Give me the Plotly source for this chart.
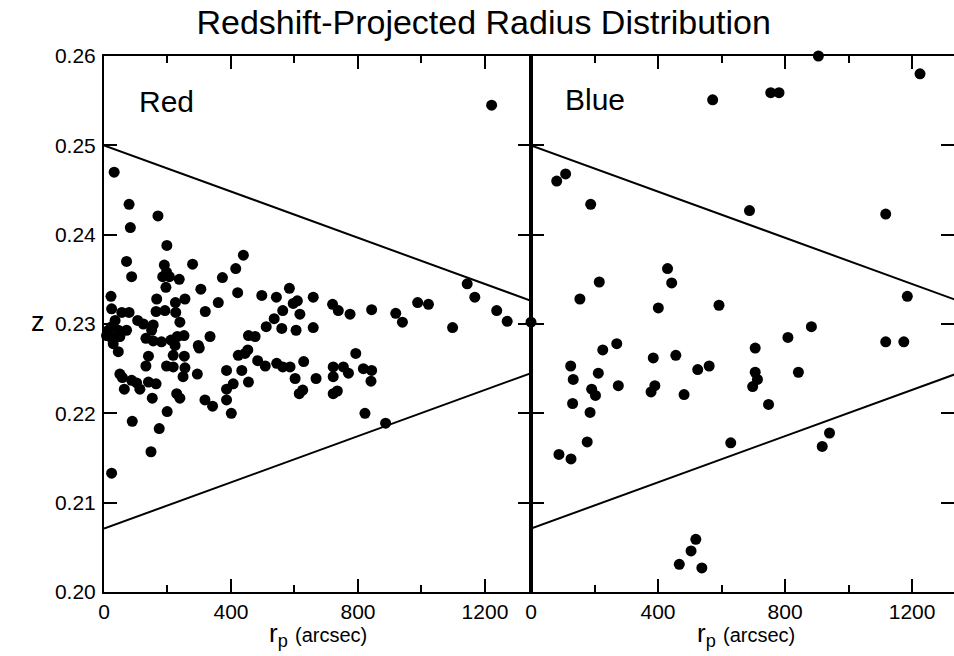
import plotly.graph_objects as go

# Red-sequence galaxies: projected radius (arcsec) and redshift
red_r = [1221, 32, 79, 170, 83, 24, 148, 89, 174, 198, 71, 87, 190, 197, 185, 206, 195, 237, 279,
         439, 415, 373, 305, 421, 360, 319, 255, 225, 166, 164, 192, 226, 239, 22, 24, 56, 79, 35,
         24, 8, 19, 45, 71, 50, 29, 45, 14, 106, 124, 155, 150, 132, 155, 181, 211, 231, 252, 224,
         218, 253, 297, 300, 334, 140, 132, 197, 218, 255, 249, 294, 50, 58, 64, 87, 103, 113, 140,
         164, 152, 229, 239, 199, 318, 342, 386, 386, 407, 386, 401, 423, 444, 453, 434, 455, 455,
         476, 484, 508, 497, 511, 536, 543, 563, 560, 584, 596, 609, 617, 605, 544, 563, 586, 602,
         629, 615, 626, 659, 659, 720, 738, 775, 843, 919, 940, 988, 1022, 1098, 1144, 1168, 1237,
         1270, 1345, 668, 722, 722, 754, 770, 722, 735, 793, 817, 843, 841, 822, 887]
red_z = [0.2545, 0.2470, 0.2434, 0.2421, 0.2408, 0.2133, 0.2157, 0.2191, 0.2183, 0.2388, 0.2370,
         0.2353, 0.2366, 0.2358, 0.2353, 0.2353, 0.2341, 0.2350, 0.2367, 0.2377, 0.2362, 0.2352,
         0.2339, 0.2335, 0.2324, 0.2314, 0.2328, 0.2324, 0.2328, 0.2314, 0.2315, 0.2313, 0.2302,
         0.2331, 0.2317, 0.2313, 0.2313, 0.2304, 0.2297, 0.2287, 0.2286, 0.2293, 0.2293, 0.2286,
         0.2278, 0.2269, 0.2293, 0.2304, 0.2300, 0.2299, 0.2293, 0.2284, 0.2281, 0.2280, 0.2282,
         0.2286, 0.2287, 0.2276, 0.2265, 0.2264, 0.2276, 0.2273, 0.2286, 0.2264, 0.2253, 0.2253,
         0.2252, 0.2251, 0.2241, 0.2244, 0.2244, 0.2240, 0.2227, 0.2237, 0.2234, 0.2227, 0.2235,
         0.2233, 0.2217, 0.2222, 0.2217, 0.2202, 0.2215, 0.2208, 0.2248, 0.2227, 0.2233, 0.2215,
         0.2200, 0.2265, 0.2267, 0.2271, 0.2248, 0.2235, 0.2287, 0.2286, 0.2259, 0.2253, 0.2332,
         0.2297, 0.2306, 0.2330, 0.2315, 0.2295, 0.2340, 0.2323, 0.2326, 0.2311, 0.2293, 0.2256,
         0.2252, 0.2252, 0.2239, 0.2258, 0.2222, 0.2226, 0.2330, 0.2296, 0.2322, 0.2315, 0.2311,
         0.2316, 0.2312, 0.2302, 0.2324, 0.2322, 0.2296, 0.2345, 0.2330, 0.2315, 0.2303, 0.2302,
         0.2239, 0.2252, 0.2241, 0.2252, 0.2245, 0.2222, 0.2225, 0.2267, 0.2250, 0.2248, 0.2236,
         0.2200, 0.2189]

# Blue galaxies
blue_r = [572, 81, 109, 188, 430, 443, 215, 154, 401, 592, 905, 1225, 755, 781, 688, 1117, 1185,
          125, 133, 226, 270, 212, 191, 203, 131, 186, 177, 88, 126, 275, 385, 390, 378, 456, 525,
          561, 482, 706, 706, 713, 698, 748, 629, 809, 883, 842, 940, 917, 1117, 1174, 519, 504,
          467, 538]
blue_z = [0.2551, 0.2460, 0.2468, 0.2434, 0.2362, 0.2346, 0.2347, 0.2328, 0.2318, 0.2321, 0.2600,
          0.2580, 0.2559, 0.2559, 0.2427, 0.2423, 0.2331, 0.2253, 0.2238, 0.2271, 0.2278, 0.2245,
          0.2227, 0.2220, 0.2211, 0.2201, 0.2168, 0.2154, 0.2149, 0.2231, 0.2262, 0.2231, 0.2224,
          0.2265, 0.2249, 0.2253, 0.2221, 0.2273, 0.2246, 0.2238, 0.2230, 0.2210, 0.2167, 0.2285,
          0.2297, 0.2246, 0.2178, 0.2163, 0.2280, 0.2280, 0.2059, 0.2046, 0.2031, 0.2027]

# Membership envelope (caustic) bounds
env_r = [0, 1345]
env_upper = [0.2500, 0.2326]
env_lower = [0.2071, 0.2245]

z_ticks = [0.20, 0.21, 0.22, 0.23, 0.24, 0.25, 0.26]
z_tick_text = ["0.20", "0.21", "0.22", "0.23", "0.24", "0.25", "0.26"]
r_ticks = [0, 400, 800, 1200]

FONT = "Liberation Sans, Arial, sans-serif"
BLACK = "black"

fig = go.Figure()

dot = dict(color=BLACK, size=11, line=dict(width=0))
fig.add_trace(go.Scatter(x=red_r, y=red_z, mode="markers", marker=dot,
                         cliponaxis=False, xaxis="x", yaxis="y", showlegend=False))
fig.add_trace(go.Scatter(x=blue_r, y=blue_z, mode="markers", marker=dot,
                         cliponaxis=False, xaxis="x2", yaxis="y2", showlegend=False))
for xa, ya in (("x", "y"), ("x2", "y2")):
    for bound in (env_upper, env_lower):
        fig.add_trace(go.Scatter(x=env_r, y=bound, mode="lines",
                                 line=dict(color=BLACK, width=2),
                                 xaxis=xa, yaxis=ya, showlegend=False, hoverinfo="skip"))
# empty trace that carries the tick-only right edge axis
fig.add_trace(go.Scatter(x=[], y=[], xaxis="x2", yaxis="y3", showlegend=False))

split = 427 / 850

xcommon = dict(showgrid=False, zeroline=False, showline=True, linecolor=BLACK, linewidth=2,
               ticks="inside", ticklen=13, tickwidth=2, tickcolor=BLACK,
               tickmode="array", tickvals=r_ticks, ticktext=[str(v) for v in r_ticks],
               minor=dict(dtick=200, tick0=0, ticks="inside", ticklen=7, tickwidth=2,
                          tickcolor=BLACK),
               tickfont=dict(family=FONT, size=21, color=BLACK), mirror="ticks")
ycommon = dict(showgrid=False, zeroline=False, range=[0.20, 0.26],
               ticks="inside", ticklen=13, tickwidth=2, tickcolor=BLACK,
               tickmode="array", tickvals=z_ticks, ticktext=z_tick_text,
               tickfont=dict(family=FONT, size=21, color=BLACK), linecolor=BLACK, linewidth=2)

fig.update_layout(
    width=954, height=656,
    margin=dict(l=104, r=0, t=56, b=64),
    paper_bgcolor="white", plot_bgcolor="white",
    title=dict(text="Redshift-Projected Radius Distribution", x=0.507, xref="container",
               xanchor="center", y=1 - 22 / 656, yref="container", yanchor="middle",
               font=dict(family=FONT, size=34, color=BLACK)),
    xaxis=dict(xcommon, domain=[0, split], range=[0, 1345], anchor="y"),
    xaxis2=dict(xcommon, domain=[split, 1], range=[0, 1332], anchor="y2"),
    yaxis=dict(ycommon, anchor="x", showline=True, mirror="ticks", ticklabelstandoff=2),
    yaxis2=dict(ycommon, anchor="x2", showline=True, showticklabels=False),
    yaxis3=dict(ycommon, anchor="x2", overlaying="y2", side="right", showline=False,
                showticklabels=False),
    annotations=[
        dict(text="Red", xref="x domain", yref="y domain", x=0.077, y=0.916,
             xanchor="left", yanchor="middle", showarrow=False,
             font=dict(family=FONT, size=30, color=BLACK)),
        dict(text="Blue", xref="x2 domain", yref="y2 domain", x=0.076, y=0.919,
             xanchor="left", yanchor="middle", showarrow=False,
             font=dict(family=FONT, size=30, color=BLACK)),
        dict(text="z", xref="paper", yref="paper", x=(38 - 104) / 850, y=(592 - 322) / 536,
             xanchor="center", yanchor="middle", showarrow=False,
             font=dict(family=FONT, size=27, color=BLACK)),
        dict(text="r<sub>p</sub> <span style='font-size:20px'>(arcsec)</span>",
             xref="paper", yref="paper", x=(318 - 104) / 850, y=(592 - 634) / 536,
             xanchor="center", yanchor="middle", showarrow=False,
             font=dict(family=FONT, size=26, color=BLACK)),
        dict(text="r<sub>p</sub> <span style='font-size:20px'>(arcsec)</span>",
             xref="paper", yref="paper", x=(746 - 104) / 850, y=(592 - 634) / 536,
             xanchor="center", yanchor="middle", showarrow=False,
             font=dict(family=FONT, size=26, color=BLACK)),
    ],
)

fig.write_html("out.html")
